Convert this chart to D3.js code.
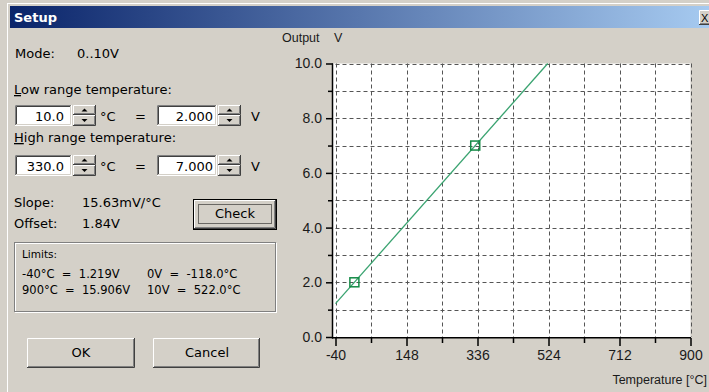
<!DOCTYPE html>
<html><head><meta charset="utf-8">
<script src="https://cdn.jsdelivr.net/npm/d3@7"></script>
<style>html,body{margin:0;padding:0;background:#d4d0c8;overflow:hidden} text{white-space:pre}</style>
</head><body><svg id="c" width="709" height="392"></svg>
<script>
// ---- chart data ----
const xDomain = [-40, 900];
const yDomain = [0, 10];
const xLabelTicks = [-40, 148, 336, 524, 712, 900];
const xMinorTicks = [54, 242, 430, 618, 806];
const yLabelTicks = [0, 2, 4, 6, 8, 10];
const yMinorTicks = [1, 3, 5, 7, 9];
const lineTemps = [-40, 522];
const lineVolts = [1.219, 10.0];
const pointTemps = [10, 330];
const pointVolts = [2.0, 7.0];

const svg = d3.select('#c');
const UI = '"DejaVu Sans", sans-serif';
const CH = '"Liberation Sans", Arial, sans-serif';

// ---- dialog frame ----
svg.append('rect').attr('x',0).attr('y',0).attr('width',709).attr('height',392).attr('fill','#d4d0c8');
svg.append('line').attr('x1',7.5).attr('y1',3).attr('x2',7.5).attr('y2',392).attr('stroke','#ffffff');
svg.append('line').attr('x1',7).attr('y1',3.5).attr('x2',709).attr('y2',3.5).attr('stroke','#ffffff');
const grad = svg.append('defs').append('linearGradient').attr('id','tb').attr('x1','0').attr('x2','1').attr('y1','0').attr('y2','0');
grad.append('stop').attr('offset','0').attr('stop-color','#0a246a');
grad.append('stop').attr('offset','1').attr('stop-color','#a6caf0');
svg.append('rect').attr('x',10).attr('y',6).attr('width',699).attr('height',22).attr('fill','url(#tb)');
svg.append('text').attr('x',14).attr('y',22).attr('fill','#fff').attr('font-family',UI).attr('font-weight','bold').attr('font-size',13).text('Setup');

function raised(x,y,w,h){
  const g = svg.append('g');
  g.append('rect').attr('x',x).attr('y',y).attr('width',w).attr('height',h).attr('fill','#d4d0c8');
  g.append('path').attr('d',`M${x+0.5},${y+h-1}V${y+0.5}H${x+w-1}`).attr('stroke','#ffffff').attr('fill','none');
  g.append('path').attr('d',`M${x},${y+h-0.5}H${x+w-0.5}V${y}`).attr('stroke','#404040').attr('fill','none');
  g.append('path').attr('d',`M${x+1},${y+h-1.5}H${x+w-1.5}V${y+1}`).attr('stroke','#808080').attr('fill','none');
  return g;
}
function sunken(x,y,w,h){
  const g = svg.append('g');
  g.append('rect').attr('x',x).attr('y',y).attr('width',w).attr('height',h).attr('fill','#ffffff');
  g.append('path').attr('d',`M${x+0.5},${y+h}V${y+0.5}H${x+w}`).attr('stroke','#808080').attr('fill','none');
  g.append('path').attr('d',`M${x+1.5},${y+h-1}V${y+1.5}H${x+w-1}`).attr('stroke','#404040').attr('fill','none');
  g.append('path').attr('d',`M${x+1},${y+h-1.5}H${x+w-1.5}V${y+1}`).attr('stroke','#d4d0c8').attr('fill','none');
  g.append('path').attr('d',`M${x},${y+h-0.5}H${x+w-0.5}V${y}`).attr('stroke','#ffffff').attr('fill','none');
  return g;
}
function spin(x,y,w,h){
  const hh = Math.floor(h/2);
  raised(x,y,w,hh);
  raised(x,y+hh,w,h-hh);
  const cx = x + w/2;
  svg.append('path').attr('d',`M${cx-3},${y+hh/2+1.5}L${cx+3},${y+hh/2+1.5}L${cx},${y+hh/2-1.5}Z`).attr('fill','#000');
  const by = y+hh+(h-hh)/2;
  svg.append('path').attr('d',`M${cx-3},${by-1.5}L${cx+3},${by-1.5}L${cx},${by+1.5}Z`).attr('fill','#000');
}
function label(x,y,t,opt={}){
  const el = svg.append('text').attr('x',x).attr('y',y).attr('font-family',opt.font||UI)
    .attr('font-size',opt.size||13).attr('fill',opt.fill||'#000')
    .attr('text-anchor',opt.anchor||'start');
  if(opt.ul){
    el.append('tspan').attr('text-decoration','underline').text(t[0]);
    el.append('tspan').text(t.slice(1));
  } else el.text(t);
  return el;
}

// close button (cut off)
raised(699,10,14,15);
label(701,22,'X',{size:11,font:CH});

label(15,58,'Mode:');
label(77,58,'0..10V');
label(14,94,'Low range temperature:',{ul:true});
label(14,142,'High range temperature:',{ul:true});

function row(y, t, v){
  sunken(15,y,57,21); spin(73,y,23,21);
  label(64,y+16,t,{anchor:'end'});
  label(100,y+16,'°C');
  label(135,y+16,'=');
  sunken(157,y,60,21); spin(218,y,23,21);
  label(213,y+16,v,{anchor:'end'});
  label(251,y+16,'V');
}
row(105,'10.0','2.000');
row(155,'330.0','7.000');

label(14,207,'Slope:');
label(82,207,'15.63mV/°C');
label(14,228,'Offset:');
label(82,228,'1.84V');

// Check button (default)
svg.append('rect').attr('x',193.5).attr('y',199.5).attr('width',83).attr('height',30).attr('fill','none').attr('stroke','#000');
raised(194,200,82,29);
svg.append('rect').attr('x',198.5).attr('y',204.5).attr('width',73).attr('height',19).attr('fill','none').attr('stroke','#000').attr('stroke-dasharray','1,1');
label(235,218,'Check',{anchor:'middle'});

// Limits group
svg.append('rect').attr('x',15.5).attr('y',243.5).attr('width',261).attr('height',69).attr('fill','none').attr('stroke','#ffffff');
svg.append('rect').attr('x',14.5).attr('y',242.5).attr('width',261).attr('height',69).attr('fill','none').attr('stroke','#808080');
label(22,258,'Limits:',{size:10.5});
label(22,278,'-40°C  =  1.219V',{size:11.5});
label(147,278,'0V  =  -118.0°C',{size:11.5});
label(22,294,'900°C  =  15.906V',{size:11.5});
label(147,294,'10V  =  522.0°C',{size:11.5});

raised(27,338,108,30);
label(81,357,'OK',{anchor:'middle'});
raised(153,338,107,30);
label(207,357,'Cancel',{anchor:'middle'});

// ---- chart ----
const x = d3.scaleLinear().domain(xDomain).range([335.5, 690.5]);
const y = d3.scaleLinear().domain(yDomain).range([337, 63.5]);
const allX = xLabelTicks.concat(xMinorTicks);
const allY = yLabelTicks.concat(yMinorTicks);

svg.append('rect').attr('x',333).attr('y',y(10)).attr('width',x(900)-333).attr('height',y(0)-y(10)).attr('fill','#fff');

const grid = svg.append('g').attr('stroke','#555').attr('stroke-dasharray','4,3').attr('stroke-width',1);
grid.selectAll('.gx').data(allX).enter().append('line')
  .attr('x1',d=>Math.round(x(d))+0.5).attr('x2',d=>Math.round(x(d))+0.5).attr('y1',y(10)).attr('y2',y(0));
grid.selectAll('.gy').data(allY).enter().append('line')
  .attr('y1',d=>Math.round(y(d))+0.5).attr('y2',d=>Math.round(y(d))+0.5).attr('x1',x(-40)).attr('x2',x(900));

const yAxisMajor = d3.axisLeft(y).tickValues(yLabelTicks).tickFormat(d=>d.toFixed(1)).tickSize(7).tickPadding(4);
const yAxisMinor = d3.axisLeft(y).tickValues(yMinorTicks).tickFormat('').tickSize(5);
const xAxisMajor = d3.axisBottom(x).tickValues(xLabelTicks).tickFormat(d=>String(d)).tickSize(8).tickPadding(4);
const xAxisMinor = d3.axisBottom(x).tickValues(xMinorTicks).tickFormat('').tickSize(5);

function styleAxis(g){
  g.select('.domain').remove();
  g.selectAll('line').attr('stroke','#000').attr('stroke-width',1.5);
  g.selectAll('text').attr('font-family',CH).attr('font-size',14).attr('fill','#1a1a1a');
}
svg.append('g').attr('transform','translate(333,0)').call(yAxisMajor).call(styleAxis);
svg.append('g').attr('transform','translate(333,0)').call(yAxisMinor).call(styleAxis);
svg.append('g').attr('transform','translate(0,338)').call(xAxisMajor).call(styleAxis);
svg.append('g').attr('transform','translate(0,338)').call(xAxisMinor).call(styleAxis);
svg.append('line').attr('x1',332.5).attr('x2',332.5).attr('y1',y(10)).attr('y2',338.5).attr('stroke','#000').attr('stroke-width',1.5);
svg.append('line').attr('x1',332).attr('x2',x(900)+0.5).attr('y1',337.75).attr('y2',337.75).attr('stroke','#000').attr('stroke-width',1.5);

// series line
const lineData = lineTemps.map((t,i)=>[t,lineVolts[i]]);
svg.append('path').datum(lineData)
  .attr('d', d3.line().x(d=>x(d[0])).y(d=>y(d[1])))
  .attr('fill','none').attr('stroke','#3aa370').attr('stroke-width',1.3);
const pts = pointTemps.map((t,i)=>[t,pointVolts[i]]);
svg.selectAll('.pt').data(pts).enter().append('rect')
  .attr('x',d=>x(d[0])-4.5).attr('y',d=>y(d[1])-4.5).attr('width',9).attr('height',9)
  .attr('fill','none').attr('stroke','#138a45').attr('stroke-width',1.5);

label(282,42,'Output',{font:CH,size:12.5,fill:'#1a1a1a'});
label(334,42,'V',{font:CH,size:12.5,fill:'#1a1a1a'});
label(707,384,'Temperature [°C]',{font:CH,size:12.5,fill:'#1a1a1a',anchor:'end'});
</script></body></html>
